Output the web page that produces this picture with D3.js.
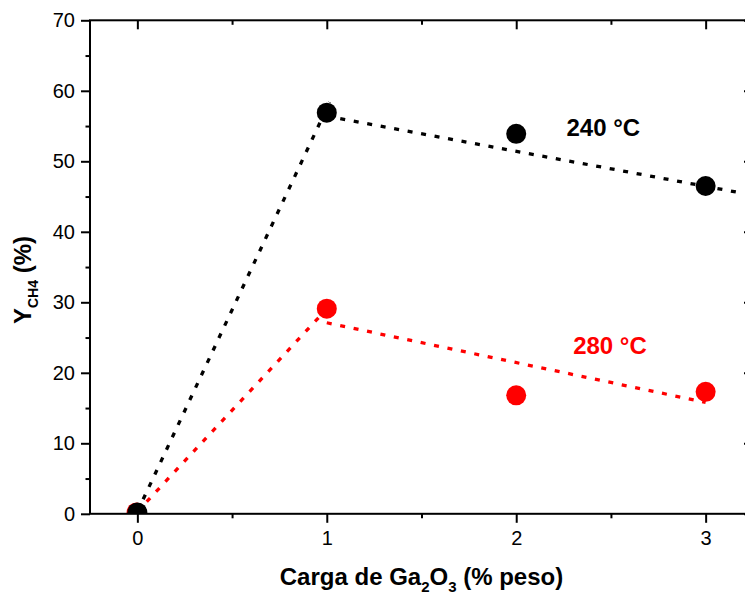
<!DOCTYPE html>
<html>
<head>
<meta charset="utf-8">
<script src="https://cdn.jsdelivr.net/npm/d3@7"></script>
<style>
  html, body { margin: 0; padding: 0; background: #fff; }
  svg { display: block; font-family: Arial, "Liberation Sans", sans-serif; }
</style>
</head>
<body>
<svg id="chart" width="745" height="595"></svg>
<script>
// ---- data ----
const loadings = [0, 1, 2, 3];
const y240 = [0.2, 56.9, 53.9, 46.5];
const y280 = [0.2, 29.1, 16.8, 17.3];
// trend (dotted) lines
const fit240aX = [0, 1.015], fit240aY = [0.3, 58.4];
const fit240bX = [1, 3.17],  fit240bY = [56.4, 45.6];
const fit280aX = [0, 0.97],  fit280aY = [0.3, 28.2];
const fit280bX = [1, 3],     fit280bY = [27.1, 15.8];
const xTicks = [0, 1, 2, 3];
const xMinorTicks = [0.5, 1.5, 2.5];
const yTicks = [0, 10, 20, 30, 40, 50, 60, 70];
const yMinorTicks = [5, 15, 25, 35, 45, 55, 65];
const seriesLabels = ["240 °C", "280 °C"];

(function () {
// ---- layout ----
const svg = d3.select("#chart");
const pL = 90, pR = 753, pT = 20.3, pB = 513.8;
const x = d3.scaleLinear().domain([-0.25, 3.25]).range([pL, pR]);
const y = d3.scaleLinear().domain([0, 70]).range([pB, pT]);

svg.append("defs").append("clipPath").attr("id", "plotclip")
  .append("rect").attr("x", pL).attr("y", pT).attr("width", pR - pL).attr("height", pB - pT);

const plot = svg.append("g").attr("clip-path", "url(#plotclip)");

function fitLine(xs, ys, color) {
  const pts = xs.map((d, i) => [d, ys[i]]);
  plot.append("path")
    .attr("d", d3.line().x(d => x(d[0])).y(d => y(d[1]))(pts))
    .attr("fill", "none").attr("stroke", color)
    .attr("stroke-width", 3.3).attr("stroke-dasharray", "5 8.7");
}
fitLine(fit240aX, fit240aY, "#000");
fitLine(fit240bX, fit240bY, "#000");
fitLine(fit280aX, fit280aY, "#ff0000");
fitLine(fit280bX, fit280bY, "#ff0000");

plot.selectAll("circle.r").data(loadings).enter().append("circle")
  .attr("cx", d => x(d) - (d === 0 ? 0.8 : 0)).attr("cy", (d, i) => y(y280[i])).attr("r", 10)
  .attr("fill", "#ff0000");
plot.selectAll("circle.b").data(loadings).enter().append("circle")
  .attr("cx", d => x(d)).attr("cy", (d, i) => y(y240[i])).attr("r", 10)
  .attr("fill", "#000");

// ---- axes ----
const axisStyle = g => {
  g.select(".domain").remove();
  g.selectAll("line").attr("stroke", "#000").attr("stroke-width", 2);
  g.selectAll("text").attr("font-size", 20).attr("fill", "#000")
    .attr("font-family", "Arial, 'Liberation Sans', sans-serif");
};

// bottom
svg.append("g").attr("transform", `translate(0,${pB})`)
  .call(d3.axisBottom(x).tickValues(xTicks).tickFormat(d3.format("d")).tickSize(9).tickPadding(8))
  .call(axisStyle);
svg.append("g").attr("transform", `translate(0,${pB})`)
  .call(d3.axisBottom(x).tickValues(xMinorTicks).tickFormat("").tickSize(4.5))
  .call(axisStyle);
// top (inward)
svg.append("g").attr("transform", `translate(0,${pT})`)
  .call(d3.axisBottom(x).tickValues(xTicks).tickFormat("").tickSize(9))
  .call(axisStyle);
svg.append("g").attr("transform", `translate(0,${pT})`)
  .call(d3.axisBottom(x).tickValues(xMinorTicks).tickFormat("").tickSize(4.5))
  .call(axisStyle);
// left
svg.append("g").attr("transform", `translate(${pL},0)`)
  .call(d3.axisLeft(y).tickValues(yTicks).tickFormat(d3.format("d")).tickSize(9).tickPadding(6))
  .call(axisStyle);
svg.append("g").attr("transform", `translate(${pL},0)`)
  .call(d3.axisLeft(y).tickValues(yMinorTicks).tickFormat("").tickSize(4.5))
  .call(axisStyle);
// right (inward)
svg.append("g").attr("transform", `translate(${pR},0)`)
  .call(d3.axisLeft(y).tickValues(yTicks).tickFormat("").tickSize(9))
  .call(axisStyle);
svg.append("g").attr("transform", `translate(${pR},0)`)
  .call(d3.axisLeft(y).tickValues(yMinorTicks).tickFormat("").tickSize(4.5))
  .call(axisStyle);

// frame lines
svg.append("rect").attr("x", pL).attr("y", pT).attr("width", pR - pL).attr("height", pB - pT)
  .attr("fill", "none").attr("stroke", "#000").attr("stroke-width", 2);

// ---- series labels ----
svg.append("text").attr("x", x(2.46)).attr("y", y(53.6)).attr("text-anchor", "middle")
  .attr("font-size", 24).attr("font-weight", "bold").attr("fill", "#000").text(seriesLabels[0]);
svg.append("text").attr("x", x(2.495)).attr("y", y(22.7)).attr("text-anchor", "middle")
  .attr("font-size", 24).attr("font-weight", "bold").attr("fill", "#ff0000").text(seriesLabels[1]);

// ---- axis titles ----
const xt = svg.append("text").attr("x", 421.5).attr("y", 585).attr("text-anchor", "middle")
  .attr("font-size", 24).attr("font-weight", "bold").attr("fill", "#000");
xt.append("tspan").text("Carga de Ga");
xt.append("tspan").attr("font-size", 15).attr("dy", 7).text("2");
xt.append("tspan").attr("dy", -7).text("O");
xt.append("tspan").attr("font-size", 15).attr("dy", 7).text("3");
xt.append("tspan").attr("dy", -7).text(" (% peso)");

const yt = svg.append("text").attr("transform", "translate(31,280) rotate(-90)").attr("text-anchor", "middle")
  .attr("font-size", 24).attr("font-weight", "bold").attr("fill", "#000");
yt.append("tspan").text("Y");
yt.append("tspan").attr("font-size", 14).attr("dy", 7).text("CH4");
yt.append("tspan").attr("dy", -7).text(" (%)");
})();
</script>
</body>
</html>
